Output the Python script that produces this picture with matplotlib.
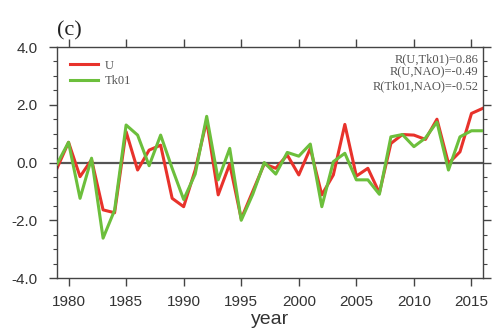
import matplotlib
matplotlib.use("Agg")
import matplotlib.pyplot as plt
from matplotlib.ticker import MultipleLocator

years = list(range(1979, 2017))
u_vals = [-0.20, 0.70, -0.49, 0.10, -1.64, -1.74, 1.07, -0.26, 0.43, 0.60,
          -1.24, -1.53, -0.26, 1.45, -1.12, -0.05, -1.95, -1.00, -0.05, -0.20,
          0.26, -0.43, 0.49, -1.12, -0.43, 1.32, -0.47, -0.20, -1.05, 0.66,
          0.97, 0.95, 0.80, 1.50, -0.03, 0.37, 1.70, 1.88]
tk01_vals = [-0.05, 0.70, -1.24, 0.15, -2.62, -1.65, 1.30, 0.95, -0.11, 0.95,
             -0.20, -1.28, -0.40, 1.60, -0.60, 0.49, -2.00, -1.10, 0.00, -0.40,
             0.35, 0.22, 0.64, -1.53, 0.03, 0.32, -0.60, -0.60, -1.10, 0.89,
             0.97, 0.55, 0.85, 1.40, -0.26, 0.89, 1.10, 1.10]
xticks = [1980, 1985, 1990, 1995, 2000, 2005, 2010, 2015]
yticks = [-4.0, -2.0, 0.0, 2.0, 4.0]
corr_text = ["R(U,Tk01)=0.86", "R(U,NAO)=-0.49", "R(Tk01,NAO)=-0.52"]

fig = plt.figure(figsize=(4.92, 3.36), dpi=100)
ax = fig.add_axes([0.1159, 0.1726, 0.8658, 0.6874])

red = "#e8322b"
green = "#6cbf3c"
ax.axhline(0, color="#555555", lw=1.6, zorder=1)
ax.plot(years, u_vals, color=red, lw=2.2, label="U", zorder=2)
ax.plot(years, tk01_vals, color=green, lw=2.2, label="Tk01", zorder=3)

ax.set_xlim(1979, 2016)
ax.set_ylim(-4, 4)
ax.set_xticks(xticks)
ax.set_yticks(yticks)
ax.set_yticklabels([f"{v:.1f}" for v in yticks])
ax.yaxis.set_minor_locator(MultipleLocator(0.5))

for s in ax.spines.values():
    s.set_color("#444444")
    s.set_linewidth(1.0)

ax.tick_params(axis="both", which="major", direction="out", length=6, width=1.0,
               color="#444444", labelcolor="#333333", labelsize=11,
               top=True, right=True)
ax.tick_params(axis="x", which="major", pad=6)
ax.tick_params(axis="y", which="major", pad=8)
ax.tick_params(axis="y", which="minor", direction="out", length=3, width=0.8,
               color="#444444", right=True)
for lab in ax.get_xticklabels() + ax.get_yticklabels():
    lab.set_family("Liberation Sans")

ax.set_xlabel("year", fontsize=14, family="Liberation Sans", color="#333333", labelpad=2)

leg = ax.legend(loc="upper left", frameon=False, handlelength=2.3, handletextpad=0.5,
                borderaxespad=0.6, labelspacing=0.3,
                prop={"family": "Liberation Serif", "size": 9})
for t in leg.get_texts():
    t.set_color("#555555")

ax.text(0.99, 0.975, "\n".join(corr_text), transform=ax.transAxes, ha="right", va="top",
        family="Liberation Serif", fontsize=9, color="#555555", linespacing=1.2)

fig.text(0.116, 0.88, "(c)", family="Liberation Serif", fontsize=16, color="#222222",
         ha="left", va="bottom")

fig.savefig("out.png", dpi=100)
